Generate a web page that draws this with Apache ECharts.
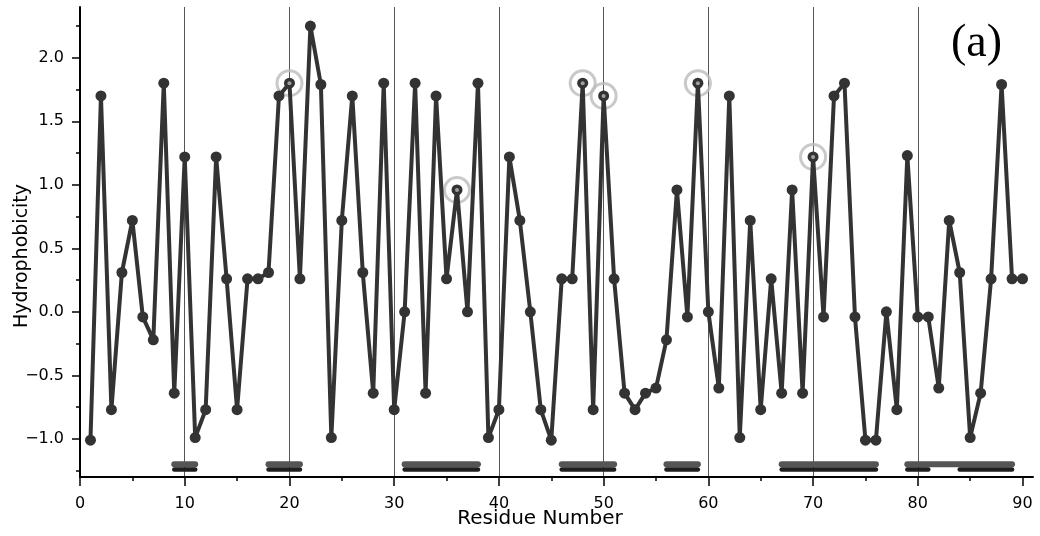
<!DOCTYPE html>
<html>
<head>
<meta charset="utf-8">
<script src="https://cdn.jsdelivr.net/npm/echarts@6/dist/echarts.min.js"></script>
<style>
html,body{margin:0;padding:0;background:#fff;}
#chart{width:1040px;height:536px;}
</style>
</head>
<body>
<div id="chart"></div>
<script>
// Hydrophobicity per residue (1..90)
const hydrophobicity = [
  -1.01, 1.70, -0.77, 0.31, 0.72, -0.04, -0.22, 1.80, -0.64, 1.22,
  -0.99, -0.77, 1.22, 0.26, -0.77, 0.26, 0.26, 0.31, 1.70, 1.80,
  0.26, 2.25, 1.79, -0.99, 0.72, 1.70, 0.31, -0.64, 1.80, -0.77,
  0.00, 1.80, -0.64, 1.70, 0.26, 0.96, 0.00, 1.80, -0.99, -0.77,
  1.22, 0.72, 0.00, -0.77, -1.01, 0.26, 0.26, 1.80, -0.77, 1.70,
  0.26, -0.64, -0.77, -0.64, -0.60, -0.22, 0.96, -0.04, 1.80, 0.00,
  -0.60, 1.70, -0.99, 0.72, -0.77, 0.26, -0.64, 0.96, -0.64, 1.22,
  -0.04, 1.70, 1.80, -0.04, -1.01, -1.01, 0.00, -0.77, 1.23, -0.04,
  -0.04, -0.60, 0.72, 0.31, -0.99, -0.64, 0.26, 1.79, 0.26, 0.26
];
// Highlighted residues (grey circles)
const highlightedResidues = [20, 36, 48, 50, 59, 70];
// Segment bars near the bottom: [start, end]
const upperSegments = [[9, 11], [18, 21], [31, 38], [46, 51], [56, 59], [67, 76], [79, 89]];
const lowerSegments = [[9, 11], [18, 21], [31, 38], [46, 51], [56, 59], [67, 76], [79, 81], [84, 89]];
const upperSegmentLevel = -1.20;
const lowerSegmentLevel = -1.24;
// Axis ticks
const xMajorTicks = [0, 10, 20, 30, 40, 50, 60, 70, 80, 90];
const xMinorTicks = [5, 15, 25, 35, 45, 55, 65, 75, 85];
const yMajorTicks = [-1.0, -0.5, 0.0, 0.5, 1.0, 1.5, 2.0];
const yMinorTicks = [-1.25, -0.75, -0.25, 0.25, 0.75, 1.25, 1.75, 2.25];
const panelLabel = '(a)';
const xTitle = 'Residue Number';
const yTitle = 'Hydrophobicity';

const lineData = hydrophobicity.map((v, i) => [i + 1, v]);
const highlightData = highlightedResidues.map(r => [r, hydrophobicity[r - 1]]);
const segData = upperSegments.map(s => [s[0], s[1], upperSegmentLevel, 0])
  .concat(lowerSegments.map(s => [s[0], s[1], lowerSegmentLevel, 1]));

const FONT = 'DejaVu Sans';
const chart = echarts.init(document.getElementById('chart'), null, {renderer: 'canvas'});

function segRender(params, api) {
  const a = api.coord([api.value(0), api.value(2)]);
  const b = api.coord([api.value(1), api.value(2)]);
  const lower = api.value(3) === 1;
  return {
    type: 'line',
    shape: {x1: a[0], y1: a[1], x2: b[0], y2: b[1]},
    style: {stroke: lower ? '#1e1e1e' : '#555', lineWidth: lower ? 4.5 : 6, lineCap: 'round'},
    z2: lower ? 2 : 1
  };
}

const option = {
  animation: false,
  backgroundColor: '#fff',
  grid: {left: 80, right: 7, top: 7, bottom: 59, containLabel: false},
  xAxis: [{
    type: 'value', min: 0, max: 91, position: 'bottom',
    axisLine: {show: true, onZero: false, lineStyle: {color: '#000', width: 2}},
    axisTick: {show: true, inside: false, length: 9, customValues: xMajorTicks, lineStyle: {color: '#000', width: 1.5}},
    axisLabel: {show: true, customValues: xMajorTicks, margin: 19, color: '#000', fontFamily: FONT, fontSize: 16},
    splitLine: {show: true, showMinLine: false, showMaxLine: false, lineStyle: {color: '#555', width: 1}},
    minorTick: {show: false}
  }, {
    type: 'value', min: 0, max: 91, position: 'bottom',
    axisLine: {show: false, onZero: false},
    axisTick: {show: true, inside: false, length: 4, customValues: xMinorTicks, lineStyle: {color: '#000', width: 1.5}},
    axisLabel: {show: false},
    splitLine: {show: false}
  }],
  yAxis: [{
    type: 'value', min: -1.3, max: 2.4, position: 'left',
    axisLine: {show: true, onZero: false, lineStyle: {color: '#000', width: 2}},
    axisTick: {show: true, inside: false, length: 8, customValues: yMajorTicks, lineStyle: {color: '#000', width: 1.5}},
    axisLabel: {show: true, customValues: yMajorTicks, margin: 16, color: '#000', fontFamily: FONT, fontSize: 16,
      formatter: v => v.toFixed(1).replace('-', '\u2212')},
    splitLine: {show: false}
  }, {
    type: 'value', min: -1.3, max: 2.4, position: 'left',
    axisLine: {show: false, onZero: false},
    axisTick: {show: true, inside: false, length: 4, customValues: yMinorTicks, lineStyle: {color: '#000', width: 1.5}},
    axisLabel: {show: false},
    splitLine: {show: false}
  }],
  graphic: [
    {type: 'text', x: 1002, y: 44, z: 100,
      style: {text: panelLabel, font: '46px "Liberation Serif"', fill: '#000', textAlign: 'right', textVerticalAlign: 'middle'}},
    {type: 'text', x: 540, y: 519, z: 100,
      style: {text: xTitle, font: '20px "DejaVu Sans"', fill: '#000', textAlign: 'center', textVerticalAlign: 'middle'}},
    {type: 'text', x: 22, y: 256, rotation: Math.PI / 2, z: 100,
      style: {text: yTitle, font: '19px "DejaVu Sans"', fill: '#000', textAlign: 'center', textVerticalAlign: 'middle'}}
  ],
  series: [
    {
      type: 'scatter', xAxisIndex: 0, yAxisIndex: 0, data: highlightData, z: 1,
      symbol: 'circle', symbolSize: 25,
      itemStyle: {color: 'rgba(0,0,0,0)', borderColor: '#bbb', borderWidth: 3},
      silent: true
    },
    {
      type: 'line', xAxisIndex: 0, yAxisIndex: 0, data: lineData, z: 3,
      symbol: 'circle', symbolSize: 11, showAllSymbol: true,
      lineStyle: {color: '#333', width: 4},
      itemStyle: {color: '#333'},
      silent: true
    },
    {
      type: 'scatter', xAxisIndex: 0, yAxisIndex: 0, data: highlightData, z: 4,
      symbol: 'circle', symbolSize: 4,
      itemStyle: {color: '#bbb'},
      silent: true
    },
    {
      type: 'custom', xAxisIndex: 0, yAxisIndex: 0, data: segData, z: 2,
      renderItem: segRender, silent: true
    }
  ]
};
chart.setOption(option);
</script>
</body>
</html>
